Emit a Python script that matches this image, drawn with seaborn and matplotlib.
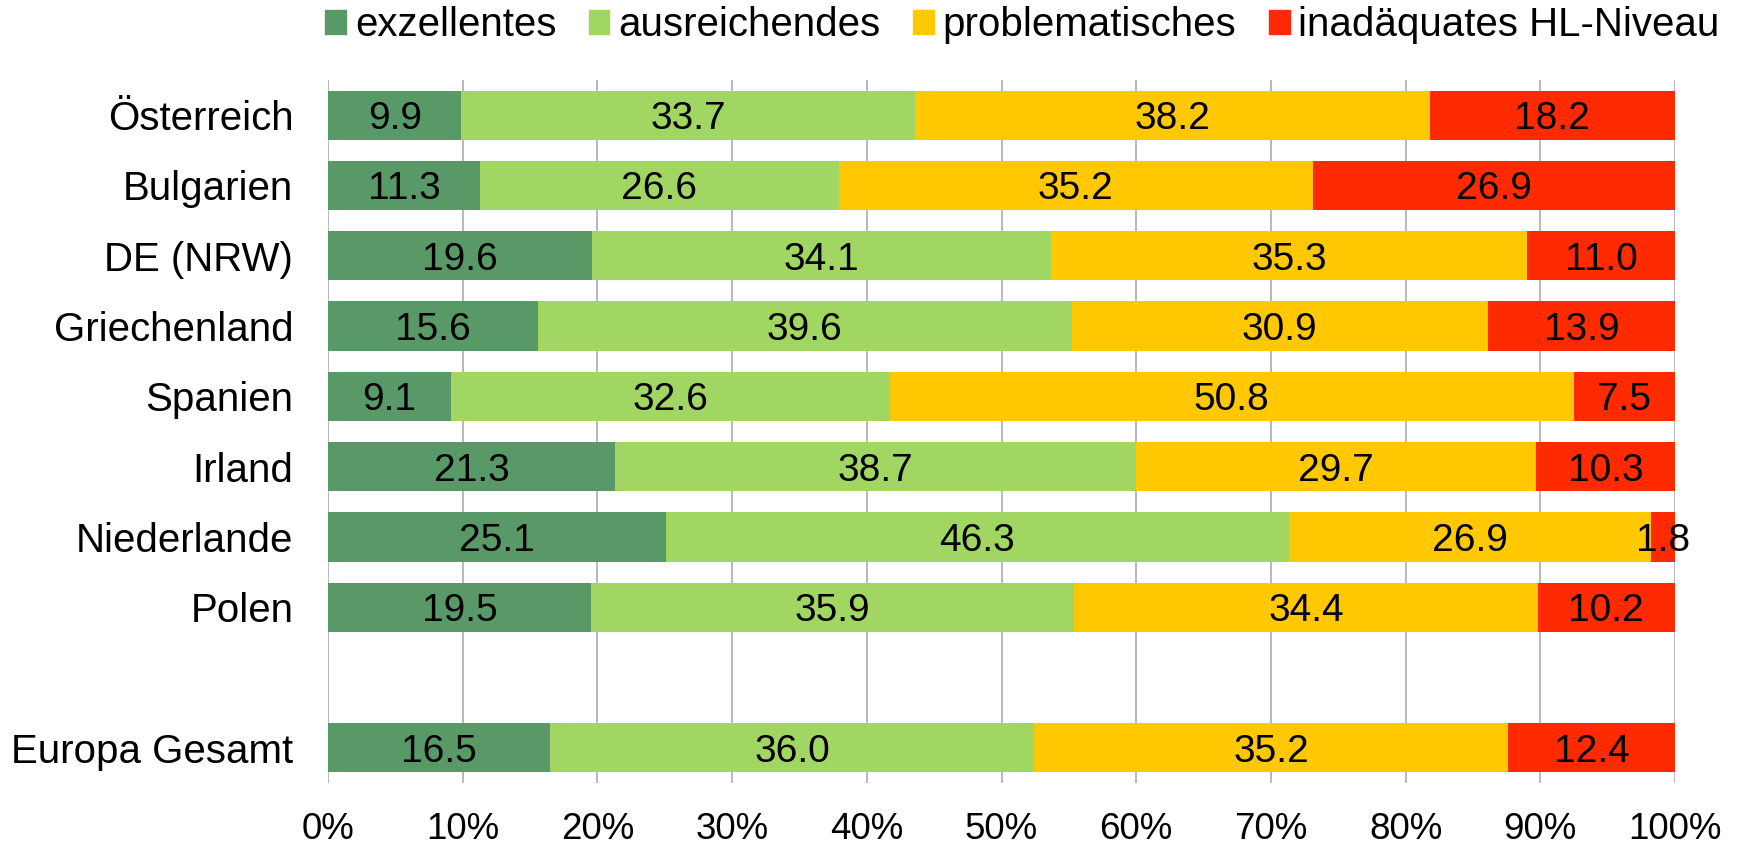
"""
Health literacy levels by country, 100% stacked horizontal bars.
"""

import numpy as np
import pandas as pd
import matplotlib
matplotlib.use("Agg")
import matplotlib.pyplot as plt
import matplotlib.patches as mpatches
import seaborn as sns

COUNTRIES = ["Österreich", "Bulgarien", "DE (NRW)", "Griechenland", "Spanien",
             "Irland", "Niederlande", "Polen", "Europa Gesamt"]
ROW_ORDER = COUNTRIES[:8] + [" "] + COUNTRIES[8:]   # blank row before the total

LEVELS = ["exzellentes", "ausreichendes", "problematisches", "inadäquates HL-Niveau"]
COLORS = ["#599968", "#A2D663", "#FFC800", "#FF2A00"]

exzellent     = [9.9, 11.3, 19.6, 15.6, 9.1, 21.3, 25.1, 19.5, 16.5]
ausreichend   = [33.7, 26.6, 34.1, 39.6, 32.6, 38.7, 46.3, 35.9, 36.0]
problematisch = [38.2, 35.2, 35.3, 30.9, 50.8, 29.7, 26.9, 34.4, 35.2]
inadaequat    = [18.2, 26.9, 11.0, 13.9, 7.5, 10.3, 1.8, 10.2, 12.4]

X_TICKS = [0, 10, 20, 30, 40, 50, 60, 70, 80, 90, 100]

sns.set_style("white")
plt.rcParams["font.family"] = ["Liberation Sans", "DejaVu Sans"]
plt.rcParams["text.color"] = "black"
plt.rcParams["xtick.color"] = "black"
plt.rcParams["ytick.color"] = "black"

df = pd.DataFrame({"land": COUNTRIES, LEVELS[0]: exzellent, LEVELS[1]: ausreichend,
                   LEVELS[2]: problematisch, LEVELS[3]: inadaequat})
vals = df[LEVELS].to_numpy(dtype=float)
cum = np.cumsum(vals, axis=1)
cum_pct = cum / cum[:, -1:] * 100
left_pct = np.hstack([np.zeros((len(df), 1)), cum_pct[:, :-1]])

fig = plt.figure(figsize=(17.38, 8.47), dpi=100)
ax = fig.add_axes([328 / 1738, 1 - 783 / 847, (1675 - 328) / 1738, (783 - 80) / 847])

# layer cumulative bars, longest first
for i in range(len(LEVELS) - 1, -1, -1):
    layer = pd.DataFrame({"land": df["land"], "wert": cum_pct[:, i]})
    sns.barplot(data=layer, x="wert", y="land", order=ROW_ORDER, orient="h",
                color=COLORS[i], saturation=1, width=0.7, ax=ax, zorder=2)

for p in ax.patches:
    p.set_edgecolor("none")
    p.set_linewidth(0)

pos = {name: ROW_ORDER.index(name) for name in COUNTRIES}
for r, name in enumerate(COUNTRIES):
    for i in range(len(LEVELS)):
        xc = left_pct[r, i] + (cum_pct[r, i] - left_pct[r, i]) / 2
        ax.text(xc, pos[name], f"{vals[r, i]:.1f}", ha="center", va="center_baseline",
                fontsize=28, color="black", zorder=3)

ax.set_xlim(0, 100)
ax.set_ylim(len(ROW_ORDER) - 0.5, -0.5)
ax.set_xticks(X_TICKS)
ax.set_xticklabels([f"{t}%" for t in X_TICKS])
ax.set_xlabel("")
ax.set_ylabel("")
ax.xaxis.grid(True, color="#A6A6A6", linewidth=1.1, zorder=0)
ax.set_axisbelow(True)
for s in ax.spines.values():
    s.set_visible(False)
ax.tick_params(axis="y", length=0, pad=25, labelsize=29)
ax.tick_params(axis="x", length=0, pad=21, labelsize=26.5)
for lab in ax.get_yticklabels():
    lab.set_verticalalignment("center_baseline")

handles = [mpatches.Patch(color=c, label=l) for c, l in zip(COLORS, LEVELS)]
fig.legend(handles=handles, loc="center left", bbox_to_anchor=(325 / 1738, 1 - 25 / 847),
           ncol=4, frameon=False, fontsize=29, handlelength=0.52, handleheight=0.55,
           handletextpad=0.22, columnspacing=0.8, borderpad=0, borderaxespad=0)

fig.savefig("out.png", dpi=100)
